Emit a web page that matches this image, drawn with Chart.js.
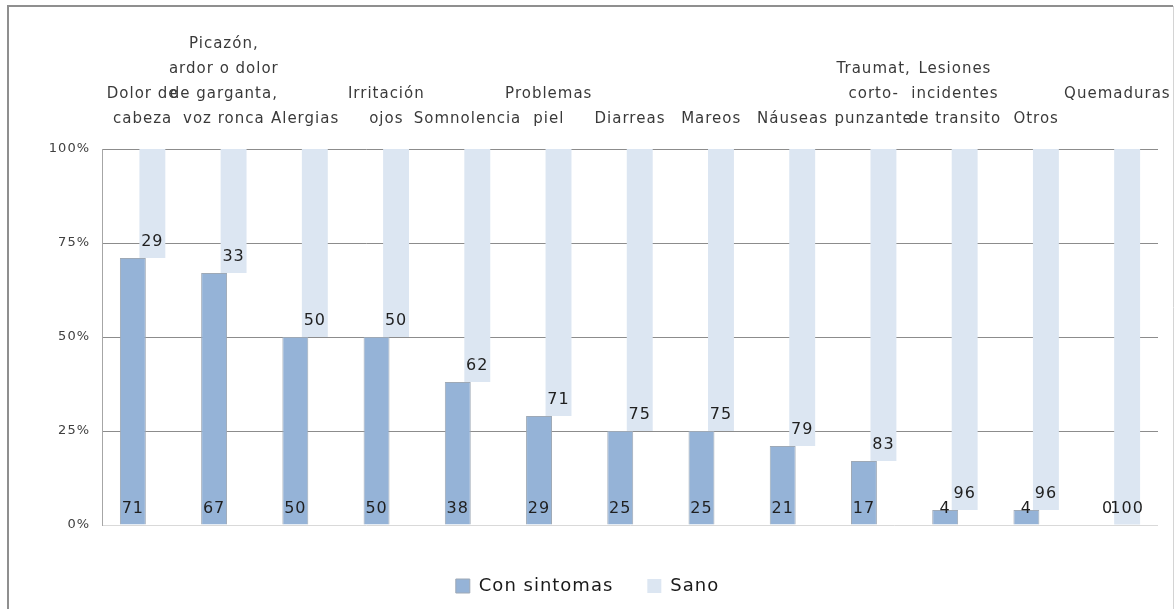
<!DOCTYPE html>
<html>
<head>
<meta charset="utf-8">
<script src="https://cdn.jsdelivr.net/npm/chart.js@4.4.0/dist/chart.umd.min.js"></script>
<style>
html, body { margin: 0; padding: 0; background: #fff; }
#wrap { position: relative; width: 1175px; height: 609px; }
</style>
</head>
<body>
<div id="wrap"><canvas id="sintomas" width="1175" height="609"></canvas></div>
<script>
var categorias = [
    ['Dolor de', 'cabeza'],
    ['Picazón,', 'ardor o dolor', 'de garganta,', 'voz ronca'],
    ['Alergias'],
    ['Irritación', 'ojos'],
    ['Somnolencia'],
    ['Problemas', 'piel'],
    ['Diarreas'],
    ['Mareos'],
    ['Náuseas'],
    ['Traumat,', 'corto-', 'punzante'],
    ['Lesiones', 'incidentes', 'de transito'],
    ['Otros'],
    ['Quemaduras', '']
];
var conSintomas = [71, 67, 50, 50, 38, 29, 25, 25, 21, 17, 4, 4, 0];
var sano = [29, 33, 50, 50, 62, 71, 75, 75, 79, 83, 96, 96, 100];
var yTicks = [0, 25, 50, 75, 100];

var fuente = '"DejaVu Sans", sans-serif';

// marco gris del grafico + espaciado de letras (el original sale muy "estirado")
var marco = {
    id: 'marco',
    beforeUpdate: function (chart) {
        chart.ctx.letterSpacing = '1px';
    },
    beforeDraw: function (chart) {
        var ctx = chart.ctx;
        ctx.letterSpacing = '1px';
        ctx.save();
        ctx.strokeStyle = '#8f8f8f';
        ctx.lineWidth = 2;
        ctx.beginPath();
        ctx.moveTo(8, 609);
        ctx.lineTo(8, 6);
        ctx.lineTo(1173, 6);
        ctx.stroke();
        ctx.strokeStyle = '#d4d4d4';
        ctx.lineWidth = 1;
        ctx.beginPath();
        ctx.moveTo(1173.5, 6);
        ctx.lineTo(1173.5, 609);
        ctx.stroke();
        ctx.restore();
    }
};

// valores dentro de la base de cada barra
var etiquetas = {
    id: 'etiquetas',
    afterDatasetsDraw: function (chart) {
        var ctx = chart.ctx;
        ctx.save();
        ctx.font = '16px ' + fuente;
        ctx.fillStyle = '#1f1f1f';
        ctx.textAlign = 'center';
        ctx.textBaseline = 'alphabetic';
        chart.data.datasets.forEach(function (ds, d) {
            chart.getDatasetMeta(d).data.forEach(function (bar, i) {
                var valor = d === 0 ? conSintomas[i] : sano[i];
                ctx.fillText(String(valor), bar.x, bar.base - 12);
            });
        });
        ctx.restore();
    }
};

new Chart(document.getElementById('sintomas'), {
    type: 'bar',
    data: {
        labels: categorias,
        datasets: [{
            label: 'Con sintomas',
            data: conSintomas,
            backgroundColor: '#95b3d7',
            borderColor: '#9ea9b6',
            borderWidth: 1,
            categoryPercentage: 0.48,
            barPercentage: 1.33
        }, {
            label: 'Sano',
            data: sano.map(function (v, i) { return [conSintomas[i], conSintomas[i] + v]; }),
            backgroundColor: '#dce6f2',
            borderWidth: 0,
            categoryPercentage: 0.48,
            barPercentage: 1.33
        }]
    },
    options: {
        responsive: false,
        animation: false,
        events: [],
        layout: { padding: { top: 0, left: 17, right: 17, bottom: 4 } },
        scales: {
            x: {
                position: 'top',
                grid: { display: false },
                border: { display: false },
                ticks: {
                    autoSkip: false,
                    maxRotation: 0,
                    minRotation: 0,
                    padding: 9,
                    color: '#3a3a3a',
                    font: { family: fuente, size: 15, lineHeight: '25px' }
                },
                afterFit: function (s) {
                    s.height = 149;
                    s.paddingLeft = 0;
                    s.paddingRight = 0;
                }
            },
            y: {
                min: 0,
                max: 100,
                afterBuildTicks: function (s) {
                    s.ticks = yTicks.map(function (v) { return { value: v }; });
                },
                grid: {
                    drawTicks: false,
                    color: function (c) {
                        return c.tick && c.tick.value === 0 ? '#d9d9d9' : '#8c8c8c';
                    }
                },
                border: { display: true, color: '#a6a6a6' },
                ticks: {
                    padding: 12,
                    color: '#404040',
                    font: { family: fuente, size: 13 },
                    callback: function (v) { return v + '%'; }
                },
                afterFit: function (s) {
                    s.width = 85;
                    s.paddingTop = 0;
                    s.paddingBottom = 0;
                }
            }
        },
        plugins: {
            tooltip: { enabled: false },
            legend: {
                position: 'bottom',
                title: {
                    display: true,
                    text: '',
                    padding: { top: 18, bottom: 0 },
                    font: { size: 1, lineHeight: 0 }
                },
                labels: {
                    boxWidth: 14,
                    boxHeight: 14,
                    padding: 34,
                    color: '#1a1a1a',
                    font: { family: fuente, size: 18 }
                }
            }
        }
    },
    plugins: [marco, etiquetas]
});
</script>
</body>
</html>
